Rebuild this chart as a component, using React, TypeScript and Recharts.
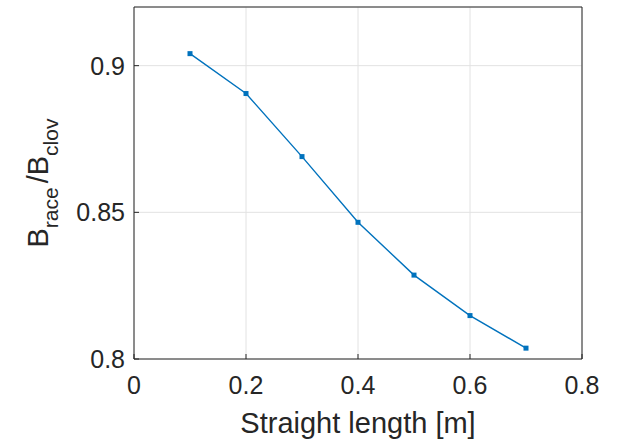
import React from "react"
import {
  CartesianGrid,
  Line,
  LineChart,
  XAxis,
  YAxis,
} from "recharts"

// straight section length [m] and field ratio
const lengths = [0.1, 0.2, 0.3, 0.4, 0.5, 0.6, 0.7]
const ratios = [0.9041, 0.8905, 0.869, 0.8466, 0.8286, 0.8148, 0.8037]

const xTicks = [0, 0.2, 0.4, 0.6, 0.8]
const yTicks = [0.8, 0.85, 0.9]

const data = lengths.map((x, i) => ({ x, ratio: ratios[i] }))

const BLUE = "#0072BD"
const INK = "#262626"
const FONT = "'Liberation Sans', Arial, Helvetica, sans-serif"

const SquareDot = (props: any) => {
  const { cx, cy } = props
  if (cx == null || cy == null) return null
  return <rect x={cx - 2.5} y={cy - 2.5} width={5} height={5} fill={BLUE} />
}

const XLabel = (props: any) => {
  const { x, y, width } = props.viewBox
  return (
    <text x={x + width / 2} y={y + 74} textAnchor="middle" fontSize={29} fill={INK} fontFamily={FONT}>
      Straight length [m]
    </text>
  )
}

const YLabel = (props: any) => {
  const { y, height } = props.viewBox
  const cx = 48
  const cy = y + height / 2
  return (
    <text
      x={cx}
      y={cy}
      transform={`rotate(-90, ${cx}, ${cy})`}
      textAnchor="middle"
      fontSize={29}
      fill={INK}
      fontFamily={FONT}
    >
      B
      <tspan dy={10} fontSize={21}>race</tspan>
      <tspan dx={4} dy={-10}>/B</tspan>
      <tspan dy={10} fontSize={21}>clov</tspan>
    </text>
  )
}

export default function App() {
  return (
    <div style={{ width: 618, height: 441, background: "#fff" }}>
      <style>{"body{margin:0}"}</style>
      <LineChart width={618} height={441} data={data} margin={{ top: 6, right: 35, left: 0, bottom: 0 }}>
        <CartesianGrid stroke="#e2e2e2" strokeWidth={1} />
        <XAxis
          dataKey="x"
          type="number"
          domain={[0, 0.8]}
          ticks={xTicks}
          height={82}
          stroke={INK}
          tickSize={-5}
          tickMargin={22}
          tick={{ fontSize: 25, fill: INK, fontFamily: FONT }}
          label={<XLabel />}
        />
        <XAxis
          xAxisId="top"
          dataKey="x"
          type="number"
          orientation="top"
          domain={[0, 0.8]}
          ticks={xTicks}
          height={1}
          stroke={INK}
          tickSize={-5}
          tick={false}
        />
        <YAxis
          type="number"
          domain={[0.8, 0.92]}
          ticks={yTicks}
          width={134}
          stroke={INK}
          tickSize={-5}
          tickMargin={14}
          tick={{ fontSize: 25, fill: INK, fontFamily: FONT }}
          label={<YLabel />}
        />
        <YAxis
          yAxisId="right"
          type="number"
          orientation="right"
          domain={[0.8, 0.92]}
          ticks={yTicks}
          width={1}
          stroke={INK}
          tickSize={-5}
          tick={false}
        />
        <Line
          dataKey="ratio"
          stroke={BLUE}
          strokeWidth={1.4}
          dot={<SquareDot />}
          activeDot={false}
          isAnimationActive={false}
        />
      </LineChart>
    </div>
  )
}
